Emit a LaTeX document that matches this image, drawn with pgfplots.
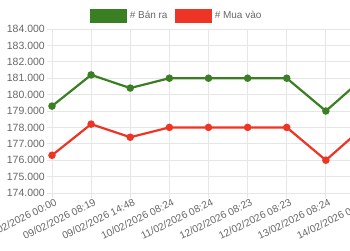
\documentclass[border=0pt]{standalone}
\usepackage{pgfplots}
\pgfplotsset{compat=1.18}
\usepackage{fontspec}
\setmainfont{Liberation Sans}
\definecolor{gA}{HTML}{3A7F24}
\definecolor{rA}{HTML}{EE3424}
\definecolor{gridc}{HTML}{E6E6E6}
\definecolor{txt}{HTML}{666666}
\begin{document}
\begin{tikzpicture}
\useasboundingbox (0,0) rectangle (350pt,250pt);
\clip (0,0) rectangle (350pt,250pt);
\begin{axis}[
  at={(52pt,57pt)}, anchor=south west, scale only axis,
  width=313pt, height=164pt,
  xmin=0, xmax=8, ymin=174, ymax=184,
  xtick={0,...,8},
  xticklabels={09/02/2026 00:00,09/02/2026 08:19,09/02/2026 14:48,10/02/2026 08:24,11/02/2026 08:24,12/02/2026 08:23,12/02/2026 08:23,13/02/2026 08:24,14/02/2026 08:24},
  ytick={174,...,184},
  yticklabels={174.000,175.000,176.000,177.000,178.000,179.000,180.000,181.000,182.000,183.000,184.000},
  grid=major, major grid style={draw=gridc, line width=0.8pt},
  axis line style={draw=gridc, line width=0.8pt},
  tick style={draw=gridc, line width=0.8pt}, tick align=outside, major tick length=5pt,
  tick pos=left,
  /pgf/number format/assume math mode=true,
  tick label style={font=\fontsize{10.5}{12}\selectfont, text=txt},
  xticklabel style={font=\fontsize{10.2}{12}\selectfont, rotate=26, anchor=east, inner sep=1pt, xshift=3pt, yshift=-5pt},
  yticklabel style={inner sep=2pt},
  legend style={at={(0.3978,1.079)}, anchor=center, legend columns=2, draw=none, fill=none,
    font=\fontsize{10}{12}\selectfont, text=txt,
    /tikz/every even column/.append style={column sep=5pt}, nodes={inner sep=2pt}},
  clip=false,
]
\addplot[gA, line width=2.2pt, mark=*, mark size=2.6pt,
  legend image code/.code={\fill[gA] (0pt,-5.5pt) rectangle (35pt,5.5pt); \path (36pt,0pt);}]
  coordinates {(0,179.3) (1,181.2) (2,180.4) (3,181) (4,181) (5,181) (6,181) (7,179) (8,181.1)};
\addlegendentry{\# Bán ra}
\addplot[rA, line width=2.2pt, mark=*, mark size=2.6pt,
  legend image code/.code={\fill[rA] (0pt,-5.5pt) rectangle (35pt,5.5pt); \path (36pt,0pt);}]
  coordinates {(0,176.3) (1,178.2) (2,177.4) (3,178) (4,178) (5,178) (6,178) (7,176) (8,178.1)};
\addlegendentry{\# Mua vào}
\end{axis}
\end{tikzpicture}
\end{document}
